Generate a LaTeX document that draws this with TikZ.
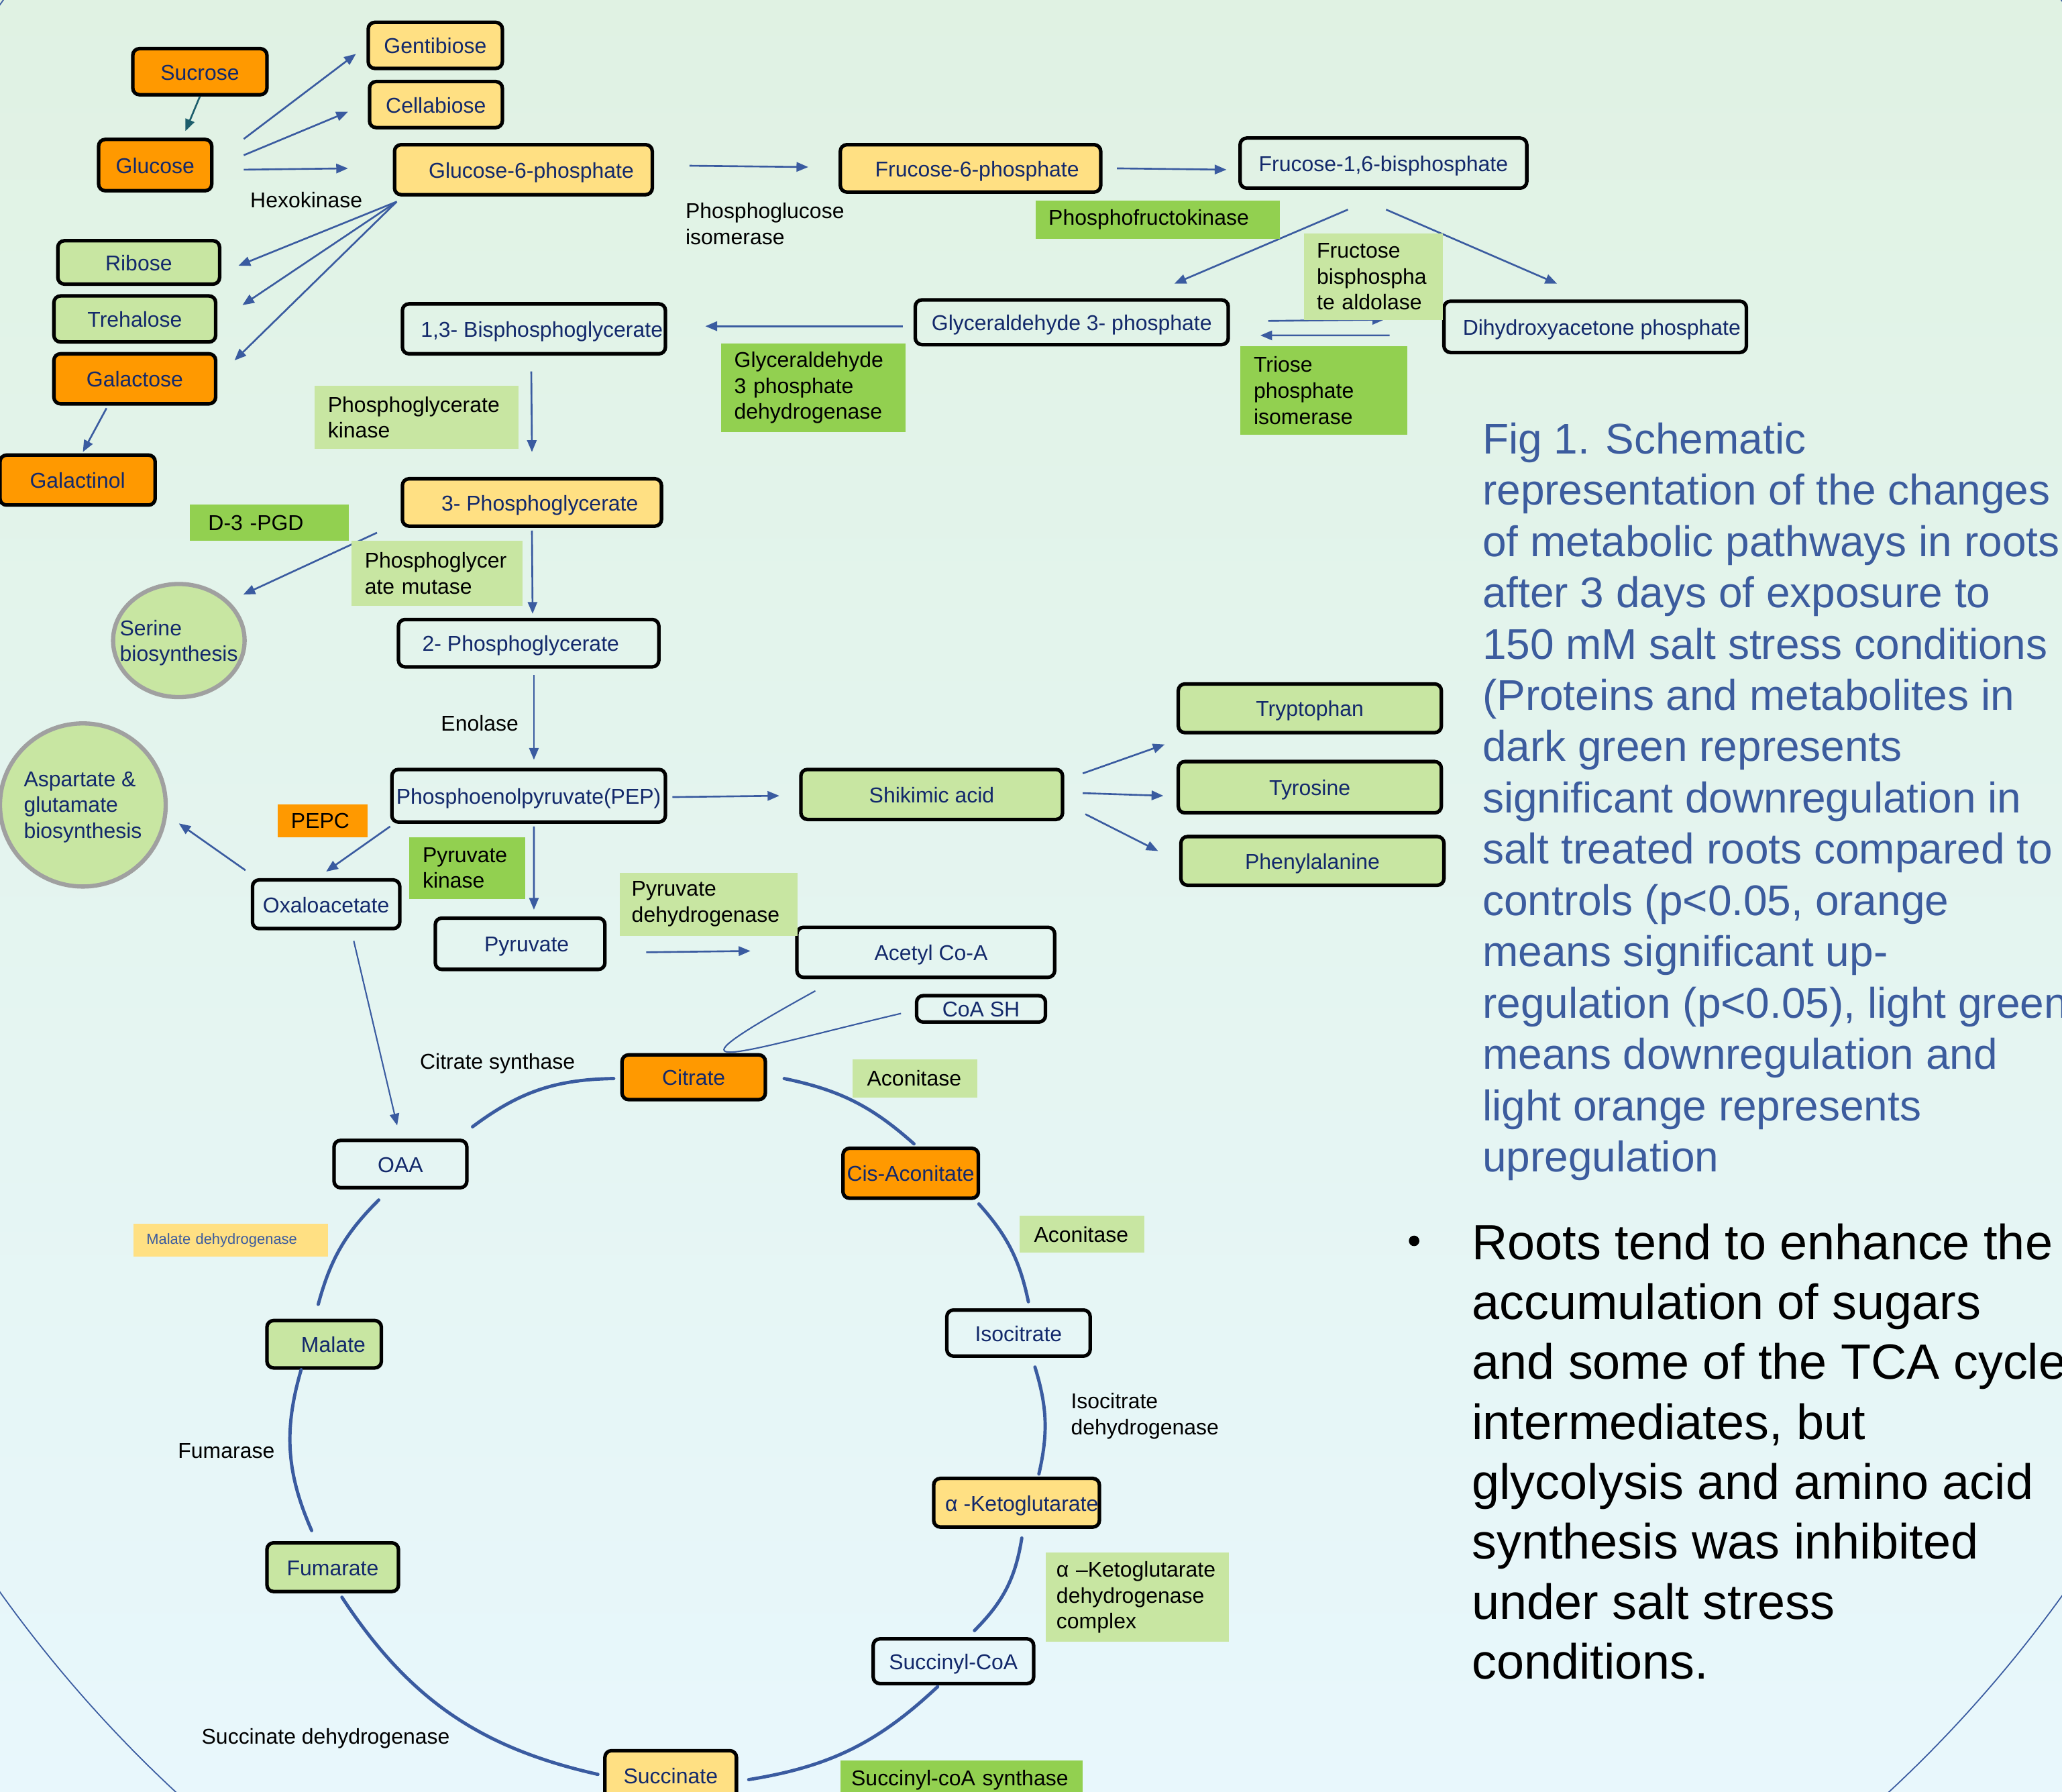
\documentclass[tikz,border=0pt]{standalone}
\usepackage{fontspec}
\setmainfont{Liberation Sans}
\usepackage{tikz}
\usetikzlibrary{arrows.meta,shapes.geometric}

\newdimen\pxu
\pxu=0.0196cm
\newcommand\labfont{\fontsize{9.1}{11}\selectfont}
\hyphenpenalty=10000
\exhyphenpenalty=10000

\definecolor{bgtop}{HTML}{E0F2E3}
\definecolor{bgbot}{HTML}{E8F7FC}
\definecolor{orangeup}{HTML}{FF9900}
\definecolor{lorange}{HTML}{FFE083}
\definecolor{lgreen}{HTML}{C8E6A2}
\definecolor{dgreen}{HTML}{92D050}
\definecolor{navy}{HTML}{13296B}
\definecolor{arrblue}{HTML}{3A5BA0}
\definecolor{capblue}{HTML}{3C5C9E}
\definecolor{teal1}{HTML}{1D5E6C}
\definecolor{ringgray}{HTML}{A0A0A0}

\tikzset{
  met/.style={draw=black, line width=1.5pt, rounded corners=5\pxu, inner sep=0pt, text=navy, font=\labfont, text height=0.905em, text depth=0.212em},
  metup/.style={met, fill=orangeup},
  metlup/.style={met, fill=lorange},
  metdown/.style={met, fill=lgreen},
  metnone/.style={met},
  sz/.style 2 args={minimum width=#1\pxu, minimum height=#2\pxu},
  enz/.style={anchor=north west, inner xsep=10\pxu, inner ysep=0pt, align=left, font=\labfont, text=black},
  lab/.style={anchor=west, inner sep=0pt, align=left, font=\labfont, text=black, text depth=0pt},
  bio/.style={ellipse, draw=ringgray, line width=1.8pt, fill=lgreen, inner sep=0pt},
  arr/.style={draw=arrblue, line width=0.75pt, -{Triangle[length=5pt,width=4pt]}},
  cyc/.style={draw=arrblue, line width=1.4pt, line cap=round},
}

\begin{document}
\begin{tikzpicture}[x=0.0196cm, y=-0.0196cm]
		% Page and background
		\useasboundingbox (0,0) rectangle (1568,1362);
		\clip (0,0) rectangle (1568,1362);
		\shade[top color=bgtop, bottom color=bgbot] (0,0) rectangle (1568,1362);
		\draw[arrblue, line width=0.5pt] (785,607) ellipse [x radius=977\pxu, y radius=1013.5\pxu];
		
		% Sugars
		\node[metup, sz={102}{35}] (sucrose) at (152,54.5) {Sucrose};
		\node[metup, sz={86}{39}] (glucose) at (118,125.5) {Glucose};
		\node[metlup, sz={102}{35}] (gentibiose) at (331,34.5) {Gentibiose};
		\node[metlup, sz={101}{35}] (cellabiose) at (331.5,79.5) {Cellabiose};
		\node[metlup, sz={196}{38}] (g6p) at (398,129) {\hspace*{12\pxu}Glucose-6-phosphate};
		\node[metdown, sz={123}{33}] (ribose) at (105.5,199.5) {Ribose};
		\node[metdown, sz={123}{35}] (trehalose) at (102.5,242.5) {Trehalose};
		\node[metup, sz={123}{38}] (galactose) at (102.5,288) {Galactose};
		\node[metup, sz={118}{38}] (galactinol) at (59,365) {Galactinol};
		
		% Glycolysis
		\node[metlup, sz={198}{36}] (f6p) at (738,128) {\hspace*{10\pxu}Frucose-6-phosphate};
		\node[metnone, sz={218}{38}] (f16bp) at (1052,124) {Frucose-1,6-bisphosphate};
		\node[metnone, sz={238}{34}] (g3p) at (815,245) {Glyceraldehyde 3- phosphate};
		\node[metnone, sz={230}{39}] (dhap) at (1213,248.5) {\hspace*{10\pxu}Dihydroxyacetone phosphate};
		\node[metnone, sz={200}{38}] (bpg) at (406,250) {\hspace*{12\pxu}1,3- Bisphosphoglycerate};
		\node[metlup, sz={197}{36}] (pgthree) at (404.5,382) {\hspace*{12\pxu}3- Phosphoglycerate};
		\node[metnone, sz={198}{36}] (pgtwo) at (402,489) {2- Phosphoglycerate\hspace*{12\pxu}};
		\node[metnone, sz={208}{40}] (pep) at (402,605) {Phosphoenolpyruvate(PEP)};
		\node[metnone, sz={112}{37}] (oxalo) at (248,687.5) {Oxaloacetate};
		\node[metnone, sz={129}{39}] (pyruvate) at (395.5,717.5) {\hspace*{10\pxu}Pyruvate};
		\node[metnone, sz={196}{38}] (acetyl) at (704,724) {\hspace*{8\pxu}Acetyl Co-A};
		\node[metnone, sz={98}{20}] (coash) at (746,767) {CoA SH};
		
		% Amino acids
		\node[metdown, sz={199}{38}] (shikimic) at (708.5,604) {Shikimic acid};
		\node[metdown, sz={200}{37}] (trp) at (996,538.5) {Tryptophan};
		\node[metdown, sz={200}{39}] (tyr) at (996,598.5) {Tyrosine};
		\node[metdown, sz={200}{37}] (phe) at (998,654.5) {Phenylalanine};
		\node[bio, sz={100}{86}] (serine) at (136,487) {};
		\node[lab, anchor=center, text=navy] at (serine.center) {Serine\\biosynthesis};
		\node[bio, sz={126}{124}] (asp) at (63,612) {};
		\node[lab, anchor=center, text=navy] at (asp.center) {Aspartate \&\\glutamate\\biosynthesis};
		
		% TCA cycle
		\node[metup, sz={109}{34}] (citrate) at (527.5,819) {Citrate};
		\node[metup, sz={103}{38}] (cis) at (692.5,892) {Cis-Aconitate};
		\node[metnone, sz={101}{36}] (oaa) at (304.5,885) {OAA};
		\node[metdown, sz={87}{36}] (malate) at (246.5,1022) {\hspace*{14\pxu}Malate};
		\node[metdown, sz={100}{37}] (fumarate) at (253,1191.5) {Fumarate};
		\node[metnone, sz={109}{35}] (isocitrate) at (774.5,1013.5) {Isocitrate};
		\node[metlup, sz={126}{37}] (akg) at (773,1142.5) {\hspace*{8\pxu}α -Ketoglutarate};
		\node[metnone, sz={122}{34}] (succoa) at (725,1263) {Succinyl-CoA};
		\node[metlup, sz={100}{38}] (succinate) at (510,1350) {Succinate};
		
		% Arrows of the sugars
		\draw[arr, draw=teal1] (sucrose.south) -- ([xshift=23\pxu,yshift=5\pxu]glucose.north);
		\draw[arr] ([xshift=23\pxu,yshift=-1\pxu]glucose.north east) -- ([xshift=-8\pxu,yshift=-6.5\pxu]gentibiose.west);
		\draw[arr] ([xshift=23\pxu,yshift=7.5\pxu]glucose.east) -- ([xshift=-15\pxu,yshift=-5.5\pxu]cellabiose.west);
		\draw[arr] ([xshift=23\pxu,yshift=-3.5\pxu]glucose.east) -- ([xshift=-34\pxu,yshift=1\pxu]g6p.west);
		\foreach \t/\sx/\sy in {ribose/13/-2.5, trehalose/19/10.5, galactose/13/14}
		\draw[arr] ([xshift=3\pxu,yshift=-4\pxu]g6p.south west) -- ([xshift=\sx\pxu,yshift=\sy\pxu]\t.east);
		\draw[arr] ([xshift=-21.5\pxu,yshift=-2\pxu]galactose.south) -- ([xshift=4\pxu,yshift=1\pxu]galactinol.north);
		
		% Arrows of glycolysis
		\draw[arr] ([xshift=27\pxu,yshift=3\pxu]g6p.east) -- ([xshift=-23\pxu,yshift=1\pxu]f6p.west);
		\draw[arr] ([xshift=11\pxu]f6p.east) -- ([xshift=-9\pxu,yshift=-5\pxu]f16bp.west);
		\draw[arr] ([xshift=-27\pxu,yshift=-15\pxu]f16bp.south) -- ([xshift=78\pxu,yshift=11\pxu]g3p.north);
		\draw[arr] ([xshift=2\pxu,yshift=-15\pxu]f16bp.south) -- ([xshift=-29\pxu,yshift=12\pxu]dhap.north);
		\draw[arr] ([xshift=29\pxu,yshift=1\pxu]g3p.east) -- ([xshift=-44\pxu,yshift=5.5\pxu]dhap.west);
		\draw[arr] ([xshift=-40\pxu,yshift=-6.5\pxu]dhap.west) -- ([xshift=23\pxu,yshift=-10\pxu]g3p.east);
		\draw[arr] ([xshift=-8\pxu,yshift=-3\pxu]g3p.west) -- ([xshift=29\pxu,yshift=2\pxu]bpg.east);
		\draw[arr] ([xshift=-2\pxu,yshift=-12\pxu]bpg.south) -- ([yshift=19\pxu]pgthree.north);
		\draw[arr] ([xshift=-18\pxu,yshift=-23\pxu]pgthree.west) -- ([xshift=49\pxu,yshift=35\pxu]serine.center);
		\draw[arr] ([yshift=-2\pxu]pgthree.south) -- ([xshift=3\pxu,yshift=3\pxu]pgtwo.north);
		\draw[arr] ([xshift=4\pxu,yshift=-5\pxu]pgtwo.south) -- ([xshift=4\pxu,yshift=6\pxu]pep.north);
		\draw[arr] ([xshift=4\pxu,yshift=-1\pxu]pep.east) -- ([xshift=-15\pxu,yshift=-1\pxu]shikimic.west);
		\foreach \t/\sx/\sy/\ex/\ey in {trp/14/16/-9/-27.5, tyr/14/1/-10/-6.5, phe/16/-15/-16/7.5}
		\draw[arr] ([xshift=\sx\pxu,yshift=\sy\pxu]shikimic.east) -- ([xshift=\ex\pxu,yshift=\ey\pxu]\t.west);
		\draw[arr] ([yshift=-2\pxu]pep.south west) -- ([yshift=5\pxu]oxalo.north);
		\draw[arr] ([xshift=-4\pxu,yshift=6\pxu]oxalo.north west) -- ([xshift=73\pxu,yshift=-14\pxu]asp.center);
		\draw[arr] ([xshift=4\pxu,yshift=-2\pxu]pep.south) -- ([xshift=10.5\pxu,yshift=5\pxu]pyruvate.north);
		\draw[arr] ([xshift=30\pxu,yshift=-6.5\pxu]pyruvate.east) -- ([xshift=-34\pxu,yshift=1\pxu]acetyl.west);
		\draw[arr, line width=0.6pt] ([xshift=21\pxu,yshift=-8\pxu]oxalo.south) -- ([xshift=-2.5\pxu,yshift=10\pxu]oaa.north);
		\draw[arrblue, line width=0.6pt] ([xshift=-84\pxu,yshift=-9\pxu]acetyl.south) .. controls (490,825) and (560,800) .. ([xshift=-10.5\pxu,yshift=-3.5\pxu]coash.west);
		
		% Arcs of the TCA cycle
		\draw[cyc] ([xshift=3\pxu,yshift=9\pxu]oaa.north east) to[bend left=18] ([xshift=-5\pxu,yshift=-1\pxu]citrate.west);
		\draw[cyc] ([xshift=13\pxu,yshift=-1\pxu]citrate.east) to[bend left=15] ([xshift=2.5\pxu,yshift=2\pxu]cis.north);
		\draw[cyc] ([xshift=-1\pxu,yshift=-3\pxu]cis.south east) to[bend left=15] ([xshift=7.5\pxu,yshift=5\pxu]isocitrate.north);
		\draw[cyc] ([xshift=12.5\pxu,yshift=-7\pxu]isocitrate.south) to[bend left=15] ([xshift=17\pxu,yshift=2\pxu]akg.north);
		\draw[cyc] ([xshift=4\pxu,yshift=-7\pxu]akg.south) to[bend left=18] ([xshift=16\pxu,yshift=5\pxu]succoa.north);
		\draw[cyc] ([xshift=-12\pxu,yshift=-1\pxu]succoa.south) to[bend left=17] ([xshift=8\pxu,yshift=-3\pxu]succinate.east);
		\draw[cyc] ([xshift=-4\pxu,yshift=1\pxu]succinate.west) to[bend left=22] ([xshift=7\pxu,yshift=-3\pxu]fumarate.south);
		\draw[cyc] ([xshift=-16\pxu,yshift=8\pxu]fumarate.north) to[bend left=20] ([xshift=-17.5\pxu]malate.south);
		\draw[cyc] ([xshift=-4.5\pxu,yshift=11\pxu]malate.north) to[bend left=15] ([xshift=-16.5\pxu,yshift=-8\pxu]oaa.south);
		
		% Enzymes
		\node[enz, fill=dgreen, text width=166\pxu, minimum height=29\pxu] (pfk) at (787,152) {Phosphofructokinase};
		\node[enz, fill=lgreen, text width=86\pxu, minimum height=66\pxu] (fba) at (991,177) {Fructose\\bisphospha\\te aldolase};
		\node[enz, fill=dgreen, text width=107\pxu, minimum height=67\pxu] (tpi) at (943,263) {Triose\\phosphate\\isomerase};
		\node[enz, fill=dgreen, text width=120\pxu, minimum height=67\pxu] (gapdh) at (548,261) {Glyceraldehyde\\3 phosphate\\dehydrogenase};
		\node[enz, fill=lgreen, text width=135\pxu, minimum height=48\pxu] (pgk) at (239,293) {Phosphoglycerate\\kinase};
		\node[enz, fill=dgreen, inner xsep=14\pxu, text width=93\pxu, minimum height=28\pxu] (pgd) at (144,383) {D-3 -PGD};
		\node[enz, fill=lgreen, text width=110\pxu, minimum height=49\pxu] (pgm) at (267,411) {Phosphoglycer\\ate mutase};
		\node[enz, fill=orangeup, text width=48\pxu, minimum height=25\pxu] (pepc) at (211,611) {PEPC};
		\node[enz, fill=dgreen, text width=68\pxu, minimum height=47\pxu] (pk) at (311,636) {Pyruvate\\kinase};
		\node[enz, fill=lgreen, inner xsep=9\pxu, text width=117\pxu, minimum height=48\pxu] (pdh) at (471,663) {Pyruvate\\dehydrogenase};
		\node[enz, fill=lgreen, inner xsep=11\pxu, text width=73\pxu, minimum height=29\pxu] (aco1) at (648,805) {Aconitase};
		\node[enz, fill=lgreen, inner xsep=11\pxu, text width=73\pxu, minimum height=28\pxu] (aco2) at (775,924) {Aconitase};
		\node[enz, fill=lorange, text width=128\pxu, minimum height=25\pxu, text=capblue, font=\fontsize{6.25}{7.5}\selectfont] (mdh) at (101,930) {Malate dehydrogenase};
		\node[enz, fill=lgreen, inner xsep=8\pxu, text width=123\pxu, minimum height=68\pxu] (kgdh) at (795,1180) {α –Ketoglutarate\\dehydrogenase\\complex};
		\node[enz, fill=dgreen, inner xsep=8\pxu, text width=168\pxu, minimum height=30\pxu] (scs) at (639,1338) {Succinyl-coA synthase};
		\node[lab] (hexo) at (190,152) {Hexokinase};
		\node[lab] (pgi) at (521,170) {Phosphoglucose\\isomerase};
		\node[lab] (eno) at (335,550) {Enolase};
		\node[lab] (cs) at (319,807) {Citrate synthase};
		\node[lab] (idh) at (814,1075) {Isocitrate\\dehydrogenase};
		\node[lab] (fum) at (135,1103) {Fumarase};
		\node[lab] (sdh) at (153,1320) {Succinate dehydrogenase};
		
		% Caption and summary
		\node[anchor=north west, inner sep=0pt, align=left, text=capblue, font=\fontsize{18.2}{21.75}\selectfont] (caption) at (1127,321) {Fig 1. Schematic\\representation of the changes\\of metabolic pathways in roots\\after 3 days of exposure to\\150 mM salt stress conditions\\(Proteins and metabolites in\\dark green represents\\significant downregulation in\\salt treated roots compared to\\controls (p<0.05, orange\\means significant up-\\regulation (p<0.05), light green\\means downregulation and\\light orange represents\\upregulation};
		\fill (1075.3,943.4) circle (4\pxu);
		\node[anchor=north west, inner sep=0pt, align=left, font=\fontsize{21}{25.4}\selectfont] (summary) at (1119,930) {Roots tend to enhance the\\accumulation of sugars\\and some of the TCA cycle\\intermediates, but\\glycolysis and amino acid\\synthesis was inhibited\\under salt stress\\conditions.};
		
	\end{tikzpicture}
\end{document}
